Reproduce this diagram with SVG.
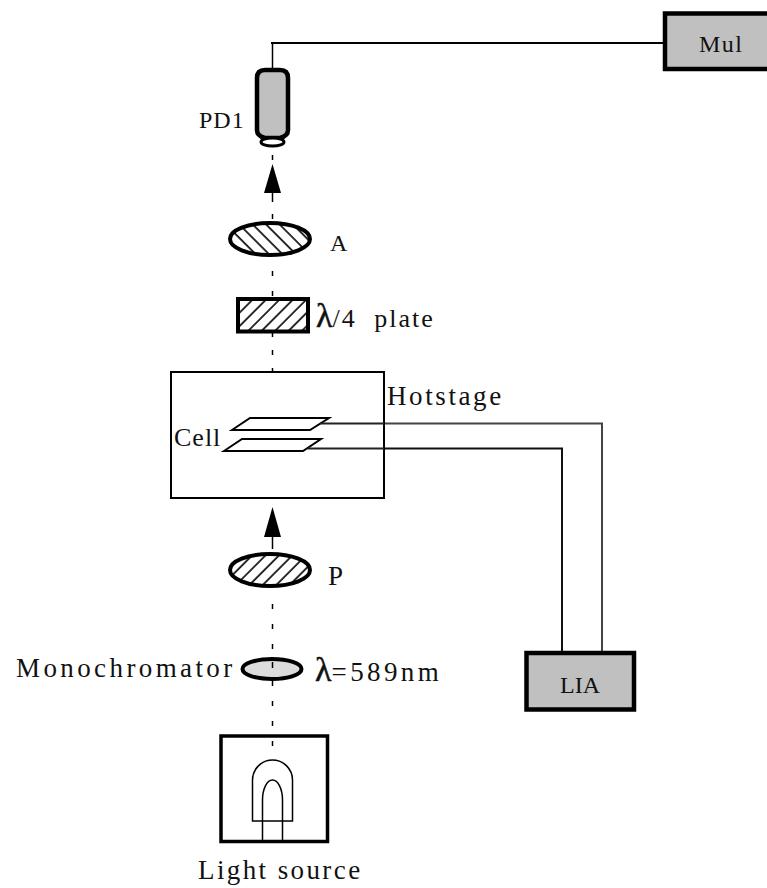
<svg xmlns="http://www.w3.org/2000/svg" width="767" height="888" viewBox="0 0 767 888">
<style>
text{font-family:"Liberation Serif","Times New Roman",serif;fill:#111}
.g{fill:#c0c0c0;stroke:#000;stroke-width:4.500}
</style>
<defs>
<pattern id="hf" width="9.500" height="9.500" patternUnits="userSpaceOnUse" patternTransform="rotate(45)"><rect width="9.500" height="9.500" fill="#fff"/><line x1="1" y1="0" x2="1" y2="9.500" stroke="#000" stroke-width="1.600"/></pattern>
<pattern id="hb" width="9.500" height="9.500" patternUnits="userSpaceOnUse" patternTransform="rotate(-45)"><rect width="9.500" height="9.500" fill="#fff"/><line x1="1" y1="0" x2="1" y2="9.500" stroke="#000" stroke-width="1.600"/></pattern>
</defs>
<g id="connectors">
<path d="M272.500 155V160M272.500 214V219M272.500 271V276M272.500 291V296M272.500 333V337M272.500 350V355M272.500 368V372M272.500 604V609M272.500 624V629M272.500 644V649M272.500 681V686M272.500 701V706M272.500 721V726" fill="none" stroke="#000" stroke-width="1.500"/>
<path d="M271 43H664" fill="none" stroke="#000" stroke-width="2"/>
<path d="M272.500 43V68" stroke="#000" stroke-width="1.500" fill="none"/>
<path d="M272.500 190V202" stroke="#000" stroke-width="1.500"/>
<path d="M272.500 549V530" stroke="#000" stroke-width="1.500"/>
<polygon points="272.500,164 264,193 281,193" fill="#000"/>
<polygon points="272.500,507 264,537 281,537" fill="#000"/>
<path d="M320 423.500H602V651" fill="none" stroke="#444" stroke-width="2"/>
<path d="M307.500 448.500H562V651" fill="none" stroke="#111" stroke-width="2"/>
</g>
<g id="mul"><rect class="g" x="665" y="13.500" width="110" height="55.500"/><text x="699" y="52" font-size="24" letter-spacing="1.500">Mul</text></g>
<g id="pd1">
<path class="g" d="M265 70H280Q288 70 288 78V130Q288 136 280 138H265Q257 136 257 130V78Q257 70 265 70Z" stroke-width="4"/>
<ellipse cx="272.500" cy="142" rx="11.500" ry="4" fill="#fff" stroke="#000" stroke-width="3"/>
<text x="199" y="128" font-size="24" letter-spacing="1">PD1</text>
</g>
<g id="analyzer"><ellipse cx="270" cy="239" rx="40" ry="16" fill="url(#hb)" stroke="#000" stroke-width="4"/><text x="330" y="251" font-size="24">A</text></g>
<g id="plate"><rect x="238" y="299" width="70" height="32.500" fill="url(#hf)" stroke="#000" stroke-width="4"/><text x="316" y="327" font-size="26" word-spacing="9"><tspan font-size="34" stroke="#111" stroke-width=".5">λ</tspan><tspan letter-spacing="2">/4 plate</tspan></text></g>
<g id="hotstage"><rect x="171" y="372" width="213" height="126" fill="#fff" stroke="#000" stroke-width="2"/><text x="387" y="405" font-size="27" letter-spacing="2.600">Hotstage</text></g>
<g id="cell">
<polygon points="232,430 250,418 329,418 310,430" fill="#fff" stroke="#000" stroke-width="2"/>
<polygon points="224,451 242,439 321,439 303,451" fill="#fff" stroke="#000" stroke-width="2"/>
<text x="174" y="446" font-size="26" letter-spacing="1">Cell</text>
</g>
<path d="M320 423.500H384M307.500 448.500H384" fill="none" stroke="#222" stroke-width="2"/>
<g id="polarizer"><ellipse cx="270" cy="570" rx="40" ry="16" fill="url(#hf)" stroke="#000" stroke-width="4"/><text x="328" y="585" font-size="27">P</text></g>
<g id="monochromator"><ellipse cx="272" cy="669" rx="29.500" ry="10" fill="#dcdcdc" stroke="#000" stroke-width="4"/><path d="M272.500 662V668" stroke="#000" stroke-width="1.500"/><text x="16" y="677" font-size="27" letter-spacing="3.400">Monochromator</text><text x="315" y="681" font-size="27"><tspan font-size="34" stroke="#111" stroke-width=".5">λ</tspan><tspan letter-spacing="3.400">=589nm</tspan></text></g>
<g id="lia"><rect class="g" x="526.500" y="653" width="107.500" height="56.500"/><text x="560" y="693" font-size="24">LIA</text></g>
<g id="source">
<rect x="221" y="736" width="106.500" height="105.500" fill="#fff" stroke="#000" stroke-width="3.500"/>
<path d="M272.500 741V746" stroke="#000" stroke-width="1.500"/>
<path d="M252.500 821V780A20 20 0 0 1 292.500 780V821Z" fill="none" stroke="#000" stroke-width="1.500"/>
<path d="M262.500 840V800A10 20 0 0 1 282.500 800V840" fill="none" stroke="#000" stroke-width="1.500"/>
<text x="198" y="879" font-size="27" letter-spacing="2.400">Light source</text>
</g>
</svg>
